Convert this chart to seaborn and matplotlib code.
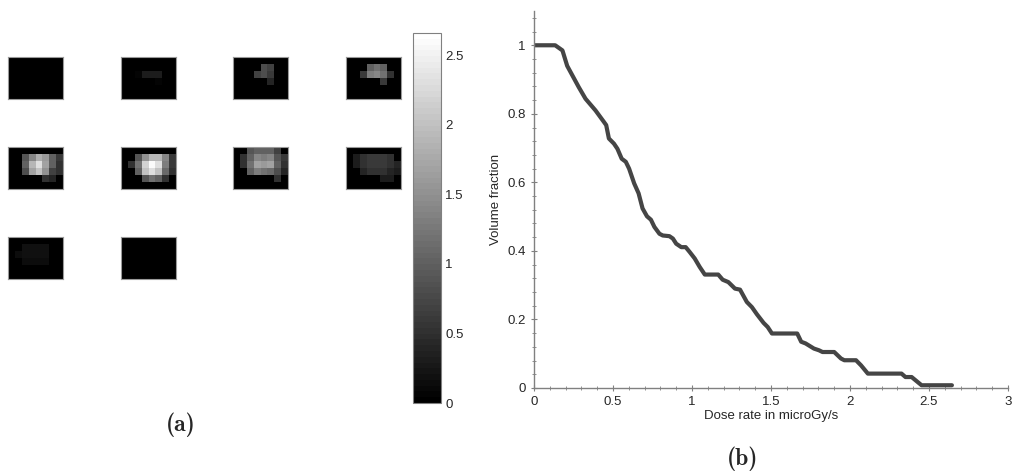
import os
import numpy as np
import matplotlib
matplotlib.use("Agg")
import matplotlib.pyplot as plt
import seaborn as sns
from matplotlib.ticker import FixedLocator, MultipleLocator
from matplotlib.font_manager import FontProperties

sns.set_style("white")
plt.rcParams['font.family'] = ['Liberation Sans', 'DejaVu Sans']
plt.rcParams['mathtext.fontset'] = 'cm'

# ---------------- data: dose-rate maps (6 rows x 8 cols) ----------------
frame1 = [[0, 0, 0, 0, 0, 0, 0, 0],
          [0, 0, 0, 0, 0, 0, 0, 0],
          [0, 0, 0, 0, 0, 0, 0, 0],
          [0, 0, 0, 0, 0, 0, 0, 0],
          [0, 0, 0, 0, 0, 0, 0, 0],
          [0, 0, 0, 0, 0, 0, 0, 0]]
frame2 = [[0, 0, 0, 0, 0, 0, 0, 0],
          [0, 0, 0, 0, 0, 0, 0, 0],
          [0, 0, 0.08, 0.3, 0.3, 0.3, 0, 0],
          [0, 0, 0, 0, 0, 0.08, 0, 0],
          [0, 0, 0, 0, 0, 0, 0, 0],
          [0, 0, 0, 0, 0, 0, 0, 0]]
frame3 = [[0, 0, 0, 0, 0, 0, 0, 0],
          [0, 0, 0, 0, 0.8, 0.7, 0, 0],
          [0, 0, 0, 0.7, 0.8, 0.6, 0, 0],
          [0, 0, 0, 0, 0, 0.4, 0, 0],
          [0, 0, 0, 0, 0, 0, 0, 0],
          [0, 0, 0, 0, 0, 0, 0, 0]]
frame4 = [[0, 0, 0, 0, 0, 0, 0, 0],
          [0, 0, 0, 1.0, 1.2, 1.0, 0, 0],
          [0, 0, 0.6, 1.3, 1.4, 1.2, 0.5, 0],
          [0, 0, 0, 0, 0, 0.6, 0, 0],
          [0, 0, 0, 0, 0, 0, 0, 0],
          [0, 0, 0, 0, 0, 0, 0, 0]]
frame5 = [[0, 0, 0, 0, 0, 0, 0, 0],
          [0, 0, 0.9, 1.4, 1.8, 1.6, 1.0, 0.6],
          [0, 0, 1.0, 1.9, 2.3, 1.7, 1.0, 0.5],
          [0, 0, 0.8, 1.7, 2.0, 1.5, 0.7, 0.5],
          [0, 0, 0, 0, 0, 0.5, 0.4, 0],
          [0, 0, 0, 0, 0, 0, 0, 0]]
frame6 = [[0, 0, 0, 0, 0, 0, 0, 0],
          [0, 0, 0.9, 1.5, 1.9, 1.9, 1.4, 0.6],
          [0, 0.5, 1.2, 2.2, 2.6, 2.3, 1.3, 0.6],
          [0, 0, 1.0, 2.0, 2.3, 2.0, 1.1, 0.5],
          [0, 0, 0, 0.9, 1.2, 1.0, 0.5, 0],
          [0, 0, 0, 0, 0, 0, 0, 0]]
frame7 = [[0, 0, 0.9, 1.0, 1.0, 1.0, 0.7, 0],
          [0, 0.5, 1.0, 1.4, 1.3, 1.4, 0.9, 0.6],
          [0, 0.5, 1.2, 1.7, 1.6, 1.7, 1.0, 0.5],
          [0, 0, 1.0, 1.3, 1.2, 1.1, 0.8, 0.4],
          [0, 0, 0, 0, 0, 0, 0.5, 0],
          [0, 0, 0, 0, 0, 0, 0, 0]]
frame8 = [[0, 0, 0, 0, 0, 0, 0, 0],
          [0, 0.3, 0.5, 0.6, 0.6, 0.6, 0.5, 0],
          [0, 0.3, 0.5, 0.6, 0.6, 0.6, 0.5, 0.4],
          [0, 0, 0.4, 0.5, 0.5, 0.5, 0.4, 0.3],
          [0, 0, 0, 0, 0, 0.3, 0.3, 0],
          [0, 0, 0, 0, 0, 0, 0, 0]]
frame9 = [[0, 0, 0, 0, 0, 0, 0, 0],
          [0, 0, 0.2, 0.2, 0.2, 0.2, 0, 0],
          [0, 0.15, 0.2, 0.2, 0.2, 0.2, 0, 0],
          [0, 0, 0.15, 0.15, 0.15, 0.15, 0, 0],
          [0, 0, 0, 0, 0, 0, 0, 0],
          [0, 0, 0, 0, 0, 0, 0, 0]]
frame10 = [[0, 0, 0, 0, 0, 0, 0, 0],
           [0, 0, 0, 0, 0, 0, 0, 0],
           [0, 0, 0, 0, 0, 0, 0, 0],
           [0, 0, 0, 0, 0, 0, 0, 0],
           [0, 0, 0, 0, 0, 0, 0, 0],
           [0, 0, 0, 0, 0, 0, 0, 0]]
frames = [frame1, frame2, frame3, frame4, frame5,
          frame6, frame7, frame8, frame9, frame10]

cbar_ticks = [0, 0.5, 1, 1.5, 2, 2.5]
cbar_labels = ["0", "0.5", "1", "1.5", "2", "2.5"]
vmax = 2.66

# ---------------- data: dose-volume curve ----------------
dose = [0, 0.134, 0.18, 0.21, 0.283, 0.326, 0.389, 0.443, 0.457, 0.474, 0.506,
        0.528, 0.555, 0.581, 0.602, 0.634, 0.662, 0.687, 0.715, 0.74, 0.762,
        0.794, 0.815, 0.857, 0.879, 0.9, 0.932, 0.96, 0.985, 1.017, 1.049,
        1.081, 1.166, 1.194, 1.23, 1.272, 1.304, 1.347, 1.379, 1.411, 1.453,
        1.479, 1.506, 1.666, 1.691, 1.719, 1.772, 1.804, 1.826, 1.9, 1.943,
        1.964, 2.038, 2.07, 2.113, 2.326, 2.351, 2.39, 2.453, 2.645]
volume = [1.0, 1.0, 0.985, 0.94, 0.878, 0.844, 0.81, 0.776, 0.767, 0.728, 0.713,
          0.698, 0.669, 0.66, 0.64, 0.597, 0.568, 0.524, 0.501, 0.491, 0.47,
          0.45, 0.445, 0.443, 0.436, 0.421, 0.411, 0.411, 0.397, 0.378, 0.353,
          0.331, 0.331, 0.316, 0.309, 0.29, 0.287, 0.251, 0.236, 0.215, 0.19,
          0.178, 0.159, 0.159, 0.135, 0.13, 0.115, 0.11, 0.105, 0.105, 0.086,
          0.081, 0.081, 0.066, 0.042, 0.042, 0.032, 0.032, 0.008, 0.008]
x_ticks = [0, 0.5, 1, 1.5, 2, 2.5, 3]
x_labels = ["0", "0.5", "1", "1.5", "2", "2.5", "3"]
y_ticks = [0, 0.2, 0.4, 0.6, 0.8, 1]
y_labels = ["0", "0.2", "0.4", "0.6", "0.8", "1"]
panel_labels = ["(a)", "(b)"]

# ---------------- figure ----------------
W, H = 1015, 476
fig = plt.figure(figsize=(W / 100, H / 100), dpi=100)

def fpos(x0, y0, w, h):
    return [x0 / W, 1 - (y0 + h) / H, w / W, h / H]

cmap = plt.get_cmap('gray', 64)
col_x = [8, 121, 233, 346]
row_y = [57, 147, 237]
for i, fr in enumerate(frames):
    r, c = divmod(i, 4)
    ax = fig.add_axes(fpos(col_x[c], row_y[r], 55, 42))
    sns.heatmap(np.array(fr), ax=ax, cmap=cmap, vmin=0, vmax=vmax,
                cbar=False, xticklabels=False, yticklabels=False)
    for s in ax.spines.values():
        s.set_visible(True)
        s.set_color('#9a9a9a')
        s.set_linewidth(0.8)

# colorbar
cax = fig.add_axes(fpos(413, 33, 28, 370))
sm = matplotlib.cm.ScalarMappable(cmap=cmap, norm=matplotlib.colors.Normalize(0, vmax))
cb = fig.colorbar(sm, cax=cax)
cb.set_ticks(cbar_ticks)
cb.set_ticklabels(cbar_labels)
cb.outline.set_edgecolor('#808080')
cb.outline.set_linewidth(0.8)
cax.tick_params(direction='in', length=3, width=0.6, color='#808080',
                labelsize=9.5, pad=3, left=True, right=True)
cax.yaxis.set_ticks_position('both')
cax.yaxis.set_label_position('right')
cax.tick_params(labelleft=False, labelright=True)

# line chart
ax2 = fig.add_axes(fpos(534, 11, 474, 377))
sns.lineplot(x=dose, y=volume, ax=ax2, color='#454545', linewidth=3,
             estimator=None, sort=False)
ax2.set_xlim(0, 3)
ax2.set_ylim(0, 1.1)
ax2.xaxis.set_major_locator(FixedLocator(x_ticks))
ax2.set_xticklabels(x_labels)
ax2.yaxis.set_major_locator(FixedLocator(y_ticks))
ax2.set_yticklabels(y_labels)
ax2.xaxis.set_minor_locator(MultipleLocator(0.1))
ax2.yaxis.set_minor_locator(MultipleLocator(0.04))
for s in ['top', 'right']:
    ax2.spines[s].set_visible(False)
for s in ['left', 'bottom']:
    ax2.spines[s].set_color('#808080')
    ax2.spines[s].set_linewidth(1.0)
ax2.tick_params(which='major', direction='inout', length=5, width=0.8,
                color='#808080', labelsize=9.5, left=True, bottom=True)
ax2.tick_params(which='minor', direction='inout', length=3, width=0.6,
                color='#808080', left=True, bottom=True)
ax2.set_xlabel("Dose rate in microGy/s", fontsize=9.5, labelpad=1)
ax2.set_ylabel("Volume fraction", fontsize=9.5, labelpad=4)

cmb = os.path.join(matplotlib.get_data_path(), 'fonts', 'ttf', 'cmb10.ttf')
if os.path.exists(cmb):
    lab_fp = FontProperties(fname=cmb, size=17)
else:
    lab_fp = FontProperties(family='DejaVu Serif', weight='bold', size=15)
fig.text(181 / W, 1 - 425 / H, panel_labels[0], fontproperties=lab_fp,
         ha='center', va='center')
fig.text(743 / W, 1 - 459 / H, panel_labels[1], fontproperties=lab_fp,
         ha='center', va='center')

fig.savefig("out.png", dpi=100)
